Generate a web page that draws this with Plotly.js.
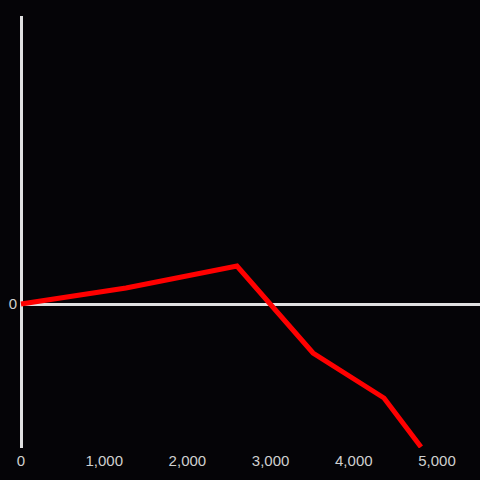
<!DOCTYPE html>
<html>
<head>
<meta charset="utf-8">
<script src="https://cdn.plot.ly/plotly-3.0.1.min.js"></script>
<style>html,body{margin:0;padding:0;background:#050407;}</style>
</head>
<body>
<div id="chart" style="width:480px;height:480px;"></div>
<script>
var xValues = [0, 1262, 2596, 3510, 4363, 4808];
var yValues = [0, 16, 38, -49, -94, -143];
var xTickVals = [0, 1000, 2000, 3000, 4000, 5000];
var xTickText = ["0", "1,000", "2,000", "3,000", "4,000", "5,000"];
var yTickVals = [0];
var yTickText = ["0"];

Plotly.newPlot('chart', [{
  x: xValues,
  y: yValues,
  type: 'scatter',
  mode: 'lines',
  line: {color: '#ff0000', width: 5},
  cliponaxis: false,
  hoverinfo: 'none'
}], {
  width: 480,
  height: 480,
  paper_bgcolor: '#050407',
  plot_bgcolor: '#050407',
  margin: {l: 20, r: 0, t: 16, b: 32},
  showlegend: false,
  font: {family: 'Liberation Sans, Arial, sans-serif', size: 15, color: '#d0d0d0'},
  xaxis: {
    range: [-12, 5517],
    showgrid: false,
    zeroline: true,
    zerolinecolor: '#e0e0e0',
    zerolinewidth: 3,
    showline: false,
    tickvals: xTickVals,
    ticktext: xTickText,
    ticks: '',
    ticklabelstandoff: 2,
    tickfont: {size: 15, color: '#d0d0d0'}
  },
  yaxis: {
    range: [-144, 288],
    showgrid: false,
    zeroline: true,
    zerolinecolor: '#e0e0e0',
    zerolinewidth: 3,
    showline: false,
    tickvals: yTickVals,
    ticktext: yTickText,
    ticks: '',
    ticklabelstandoff: 2,
    tickfont: {size: 15, color: '#d0d0d0'}
  }
}, {displayModeBar: false, staticPlot: true});
</script>
</body>
</html>
